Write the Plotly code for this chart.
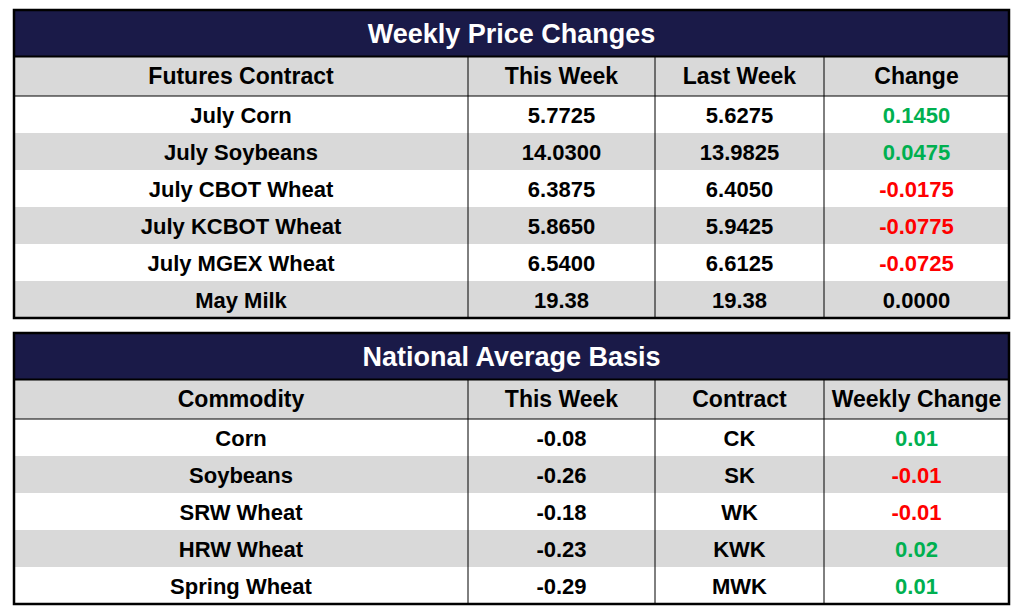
import plotly.graph_objects as go

W, H = 1024, 616

# --- data ---
price_title = "Weekly Price Changes"
price_headers = ["Futures Contract", "This Week", "Last Week", "Change"]
contracts = ["July Corn", "July Soybeans", "July CBOT Wheat", "July KCBOT Wheat",
             "July MGEX Wheat", "May Milk"]
this_week = ["5.7725", "14.0300", "6.3875", "5.8650", "6.5400", "19.38"]
last_week = ["5.6275", "13.9825", "6.4050", "5.9425", "6.6125", "19.38"]
change = ["0.1450", "0.0475", "-0.0175", "-0.0775", "-0.0725", "0.0000"]

basis_title = "National Average Basis"
basis_headers = ["Commodity", "This Week", "Contract", "Weekly Change"]
commodities = ["Corn", "Soybeans", "SRW Wheat", "HRW Wheat", "Spring Wheat"]
basis_this_week = ["-0.08", "-0.26", "-0.18", "-0.23", "-0.29"]
basis_contract = ["CK", "SK", "WK", "KWK", "MWK"]
basis_change = ["0.01", "-0.01", "-0.01", "0.02", "0.01"]

# --- style ---
NAVY = "#1a1a48"
GRAY = "#d9d9d9"
GREEN = "#00b050"
RED = "#ff0000"
FONT = "Liberation Sans"
col_edges = [14, 468, 655, 824, 1009]
title_h, head_h, row_h = 46.5, 39.5, 37


def sign_color(s):
    v = float(s)
    return GREEN if v > 0 else RED if v < 0 else "black"


fig = go.Figure()
shapes = []


def add_table(top, title, headers, columns):
    n = len(columns[0])
    left, right = col_edges[0], col_edges[-1]
    centers = [(col_edges[i] + col_edges[i + 1]) / 2 for i in range(len(columns))]
    head_top = top + title_h
    body_top = head_top + head_h
    bottom = body_top + n * row_h

    # backgrounds
    shapes.append(dict(type="rect", x0=left, x1=right, y0=head_top, y1=body_top,
                       fillcolor=GRAY, line_width=0, layer="below"))
    for i in range(n):
        if i % 2:
            shapes.append(dict(type="rect", x0=left, x1=right,
                               y0=body_top + i * row_h, y1=body_top + (i + 1) * row_h,
                               fillcolor=GRAY, line_width=0, layer="below"))
    shapes.append(dict(type="rect", x0=left, x1=right, y0=top, y1=head_top,
                       fillcolor=NAVY, line=dict(color="black", width=2), layer="below"))
    # rules
    for xv in col_edges[1:-1]:
        shapes.append(dict(type="line", x0=xv, x1=xv, y0=head_top, y1=bottom,
                           line=dict(color="black", width=1)))
    shapes.append(dict(type="line", x0=left, x1=right, y0=body_top, y1=body_top,
                       line=dict(color="black", width=1)))
    shapes.append(dict(type="rect", x0=left, x1=right, y0=top, y1=bottom,
                       line=dict(color="black", width=2.5)))

    # title
    fig.add_trace(go.Scatter(x=[(left + right) / 2], y=[top + title_h / 2 + 3],
                             mode="text", text=[title], hoverinfo="skip",
                             textfont=dict(family=FONT, size=27, color="white",
                                           weight="bold")))
    # header
    fig.add_trace(go.Scatter(x=centers, y=[head_top + head_h / 2 + 2] * len(headers),
                             mode="text", text=headers, hoverinfo="skip",
                             textfont=dict(family=FONT, size=23, color="black",
                                           weight="bold")))
    # body
    xs, ys, txt, cols = [], [], [], []
    for j, col in enumerate(columns):
        for i, v in enumerate(col):
            xs.append(centers[j])
            ys.append(body_top + (i + 0.5) * row_h + 2.5)
            txt.append(v)
            cols.append(sign_color(v) if j == len(columns) - 1 else "black")
    fig.add_trace(go.Scatter(x=xs, y=ys, mode="text", text=txt, hoverinfo="skip",
                             textfont=dict(family=FONT, size=22, color=cols,
                                           weight="bold")))


add_table(10, price_title, price_headers,
          [contracts, this_week, last_week, change])
add_table(333, basis_title, basis_headers,
          [commodities, basis_this_week, basis_contract, basis_change])

fig.update_layout(width=W, height=H, margin=dict(l=0, r=0, t=0, b=0),
                  paper_bgcolor="white", plot_bgcolor="white",
                  showlegend=False, shapes=shapes,
                  xaxis=dict(range=[0, W], visible=False, fixedrange=True),
                  yaxis=dict(range=[H, 0], visible=False, fixedrange=True))
fig.write_html("out.html", config={"displayModeBar": False},
               post_script="document.body.style.margin='0px';")
